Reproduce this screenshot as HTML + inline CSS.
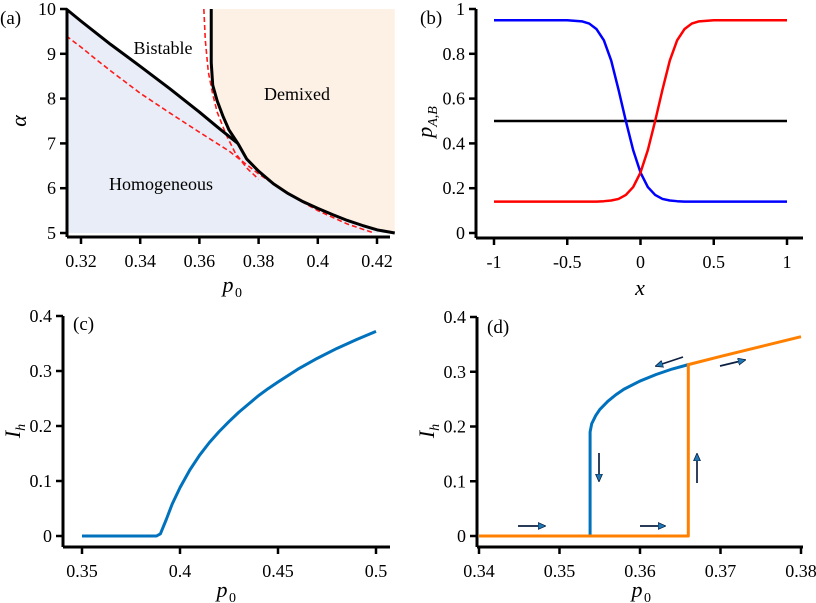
<!DOCTYPE html>
<html><head><meta charset="utf-8"><style>
html,body{margin:0;padding:0;background:#fff;}
svg{display:block;font-family:"Liberation Serif",serif;}
</style></head><body>
<svg id="fig" width="816" height="603" viewBox="0 0 816 603" xmlns="http://www.w3.org/2000/svg"></svg>
<script>
// Panel (a) data
const aLine1P=[0.315,0.32,0.33,0.34,0.35,0.36,0.366,0.373];
const aLine1A=[10,9.73,9.21,8.72,8.22,7.7,7.37,7.0];
const aCurveP=[0.373,0.376,0.38,0.385,0.39,0.395,0.40,0.405,0.41,0.415,0.42,0.426];
const aCurveA=[7.0,6.65,6.38,6.1,5.88,5.7,5.55,5.41,5.28,5.17,5.07,5.0];
const aVertP=[0.364,0.364,0.3645,0.366,0.368,0.370,0.373];
const aVertA=[10,8.8,8.3,7.95,7.6,7.3,7.0];
const aRed1P=[0.315,0.32,0.325,0.33,0.335,0.34,0.35,0.36,0.37,0.38,0.39,0.40,0.41,0.419];
const aRed1A=[9.4,9.15,8.88,8.62,8.37,8.12,7.68,7.25,6.83,6.32,5.87,5.5,5.2,5.0];
const aRed2P=[0.3615,0.362,0.363,0.3645,0.366,0.369,0.372,0.376,0.38];
const aRed2A=[10,9.3,8.6,8.1,7.7,7.2,6.8,6.45,6.2];
const aXTicks=[0.32,0.34,0.36,0.38,0.40,0.42];
const aXLabels=["0.32","0.34","0.36","0.38","0.4","0.42"];
const aYTicks=[5,6,7,8,9,10];
// Panel (b)
const bX=[-1,-0.8,-0.6,-0.5,-0.4,-0.35,-0.3,-0.25,-0.2,-0.15,-0.1,-0.05,0,0.05,0.1,0.15,0.2,0.25,0.3,0.35,0.4,0.5,0.6,0.8,1];
const bBlue=[0.95,0.95,0.95,0.95,0.945,0.935,0.91,0.86,0.77,0.64,0.5,0.37,0.27,0.205,0.17,0.152,0.145,0.142,0.14,0.14,0.14,0.14,0.14,0.14,0.14];
const bRed=[0.14,0.14,0.14,0.14,0.14,0.14,0.14,0.142,0.145,0.152,0.17,0.205,0.27,0.37,0.5,0.64,0.77,0.86,0.91,0.935,0.945,0.95,0.95,0.95,0.95];
const bBlack=[0.5,0.5];
const bXTicks=[-1,-0.5,0,0.5,1];
const bXLabels=["-1","-0.5","0","0.5","1"];
const bYTicks=[0,0.2,0.4,0.6,0.8,1];
const bYLabels=["0","0.2","0.4","0.6","0.8","1"];
// Panel (c)
const cP=[0.35,0.37,0.388,0.39,0.393,0.396,0.40,0.405,0.41,0.415,0.42,0.425,0.43,0.435,0.44,0.445,0.45,0.46,0.47,0.48,0.49,0.50];
const cI=[0,0,0,0.004,0.03,0.058,0.088,0.12,0.147,0.17,0.19,0.208,0.225,0.24,0.255,0.268,0.28,0.303,0.323,0.341,0.357,0.372];
const cXTicks=[0.35,0.4,0.45,0.5];
const cXLabels=["0.35","0.4","0.45","0.5"];
const yI=[0,0.1,0.2,0.3,0.4];
const yILabels=["0","0.1","0.2","0.3","0.4"];
// Panel (d)
const dBlueP=[0.3538,0.3538,0.354,0.3545,0.355,0.356,0.357,0.358,0.36,0.362,0.364,0.366];
const dBlueI=[0,0.19,0.205,0.22,0.231,0.246,0.258,0.268,0.283,0.295,0.305,0.313];
const dOrP=[0.34,0.366,0.366,0.37,0.375,0.38];
const dOrI=[0,0,0.313,0.328,0.346,0.364];
const dXTicks=[0.34,0.35,0.36,0.37,0.38];
const dXLabels=["0.34","0.35","0.36","0.37","0.38"];

const svg=document.getElementById('fig');
const NS="http://www.w3.org/2000/svg";
function mk(tag,attrs,parent){const e=document.createElementNS(NS,tag);for(const k in attrs)e.setAttribute(k,attrs[k]);(parent||svg).appendChild(e);return e;}
function lin(d0,d1,r0,r1){return v=>r0+(v-d0)/(d1-d0)*(r1-r0);}
function pathOf(xs,ys,sx,sy){return xs.map((v,i)=>(i?'L':'M')+sx(v).toFixed(2)+','+sy(ys[i]).toFixed(2)).join('');}
function txt(x,y,s,anchor,size,g,italic){const t=mk('text',{x:x,y:y,'text-anchor':anchor,'font-size':size},g);if(italic)t.setAttribute('font-style','italic');t.textContent=s;return t;}
function axes(g,o){
  const ya=mk('line',{x1:o.ax,y1:o.yTop,x2:o.ax,y2:o.ay,stroke:'#000','stroke-width':3},g);
  
  const xa=mk('line',{x1:o.ax,y1:o.ay,x2:o.xEnd,y2:o.ay,stroke:'#000','stroke-width':3},g);
  
  o.xt.forEach((v,i)=>{const x=o.sx(v);mk('line',{x1:x,y1:o.ay,x2:x,y2:o.ay+7,stroke:'#000','stroke-width':2.5},g);
    const t=txt(x,o.ay+30,o.xl[i],'middle',18,g);});
  o.yt.forEach((v,i)=>{const y=o.sy(v);mk('line',{x1:o.ax-7,y1:y,x2:o.ax,y2:y,stroke:'#000','stroke-width':2.5},g);
    const t=txt(o.ax-11,y+6,o.yl[i],'end',18,g);});
}
function line(g,xs,ys,sx,sy,color,w,name,dash){const p=mk('path',{d:pathOf(xs,ys,sx,sy),fill:'none',stroke:color,'stroke-width':w,'stroke-linejoin':'round'},g);if(dash)p.setAttribute('stroke-dasharray',dash);return p;}

// ---- Panel a
{const g=mk('g',{});
 const sx=lin(0.32,0.42,81,377), sy=lin(5,10,233,9);
 const peachX=aVertP.concat(aCurveP.slice(1)).concat([0.426]);
 const peachY=aVertA.concat(aCurveA.slice(1)).concat([10]);
 const pe=mk('path',{d:pathOf(peachX,peachY,sx,sy)+'Z',fill:'#fdf0e4'},g);
 
 const blX=aLine1P.concat(aCurveP.slice(1)).concat([0.315]);
 const blY=aLine1A.concat(aCurveA.slice(1)).concat([5]);
 const bl=mk('path',{d:pathOf(blX,blY,sx,sy)+'Z',fill:'#e9edf7'},g);
 
 line(g,aRed1P,aRed1A,sx,sy,'#ff1a1a',1.6,'spinodal-line-1','5,3');
 line(g,aRed2P,aRed2A,sx,sy,'#ff1a1a',1.6,'spinodal-line-2','5,3');
 line(g,aLine1P,aLine1A,sx,sy,'#000',3,'homogeneous-boundary');
 line(g,aCurveP,aCurveA,sx,sy,'#000',3,'demixed-boundary');
 line(g,aVertP,aVertA,sx,sy,'#000',3,'demixed-boundary-upper');
 axes(g,{ax:67,yTop:9,ay:237,xEnd:390,sx:sx,sy:sy,xt:aXTicks,xl:aXLabels,yt:aYTicks,yl:aYTicks.map(String)});
 let t=txt(0,24,'(a)','start',19,g);
 t=txt(163,54,'Bistable','middle',18,g);
 t=txt(297,100,'Demixed','middle',18,g);
 t=txt(161,190,'Homogeneous','middle',18,g);
 t=txt(228,292,'p','middle',22,g,true);
 mk('text',{x:235,y:297,'font-size':14},g).textContent='0';
 t=txt(0,0,'α','middle',22,g,true);t.setAttribute('transform','translate(26,121) rotate(-90)');
}
// ---- Panel b
{const g=mk('g',{});
 const sx=lin(-1,1,494,787), sy=lin(0,1,233,9);
 line(g,[-1,1],bBlack,sx,sy,'#000',2.5,'mean-line');
 line(g,bX,bBlue,sx,sy,'#0000ff',2.5,'p-a-line');
 line(g,bX,bRed,sx,sy,'#ff0000',2.5,'p-b-line');
 axes(g,{ax:476,yTop:9,ay:238,xEnd:803,sx:sx,sy:sy,xt:bXTicks,xl:bXLabels,yt:bYTicks,yl:bYLabels});
 let t=txt(420,24,'(b)','start',19,g);
 t=txt(640,295,'x','middle',22,g,true);
 const yt=mk('text',{transform:'translate(432,122) rotate(-90)','text-anchor':'middle','font-size':22,'font-style':'italic'},g);
 
 yt.innerHTML='p<tspan font-size="14" dy="5">A,B</tspan>';
}
// ---- Panel c
{const g=mk('g',{});
 const sx=lin(0.35,0.5,82,376), sy=lin(0,0.4,536,316);
 line(g,cP,cI,sx,sy,'#0072bd',3,'ih-curve');
 axes(g,{ax:63,yTop:316,ay:547,xEnd:390,sx:sx,sy:sy,xt:cXTicks,xl:cXLabels,yt:yI,yl:yILabels});
 let t=txt(73,330,'(c)','start',19,g);
 t=txt(222,597,'p','middle',22,g,true);
 mk('text',{x:229,y:602,'font-size':14},g).textContent='0';
 const yt=mk('text',{transform:'translate(20,431) rotate(-90)','text-anchor':'middle','font-size':22,'font-style':'italic'},g);
 
 yt.innerHTML='I<tspan font-size="14" dy="5">h</tspan>';
}
// ---- Panel d
{const g=mk('g',{});
 const sx=lin(0.34,0.38,479,801), sy=lin(0,0.4,536,317);
 line(g,dBlueP,dBlueI,sx,sy,'#0072bd',3,'backward-branch');
 line(g,dOrP,dOrI,sx,sy,'#ff8000',3,'forward-branch');
 axes(g,{ax:477,yTop:317,ay:547,xEnd:803,sx:sx,sy:sy,xt:dXTicks,xl:dXLabels,yt:yI,yl:yILabels});
 const defs=mk('defs',{},g);
 const m=mk('marker',{id:'ah',markerWidth:8,markerHeight:8,refX:7,refY:4,orient:'auto',markerUnits:'userSpaceOnUse'},defs);
 mk('path',{d:'M0,0.5L8,4L0,7.5Z',fill:'#1f77b4',stroke:'#0b2040','stroke-width':0.8},m);
 [[518,526,545,526],[640,526,665,526],[599,453,599,481],[697,483,697,454],[683,357,656,366],[720,366,745,360]].forEach(a=>{
   const l=mk('line',{x1:a[0],y1:a[1],x2:a[2],y2:a[3],stroke:'#0b2040','stroke-width':1.7,'marker-end':'url(#ah)'},g);
   });
 let t=txt(487,333,'(d)','start',19,g);
 t=txt(637,597,'p','middle',22,g,true);
 mk('text',{x:644,y:602,'font-size':14},g).textContent='0';
 const yt=mk('text',{transform:'translate(434,431) rotate(-90)','text-anchor':'middle','font-size':22,'font-style':'italic'},g);
 
 yt.innerHTML='I<tspan font-size="14" dy="5">h</tspan>';
}
</script>
</body></html>
